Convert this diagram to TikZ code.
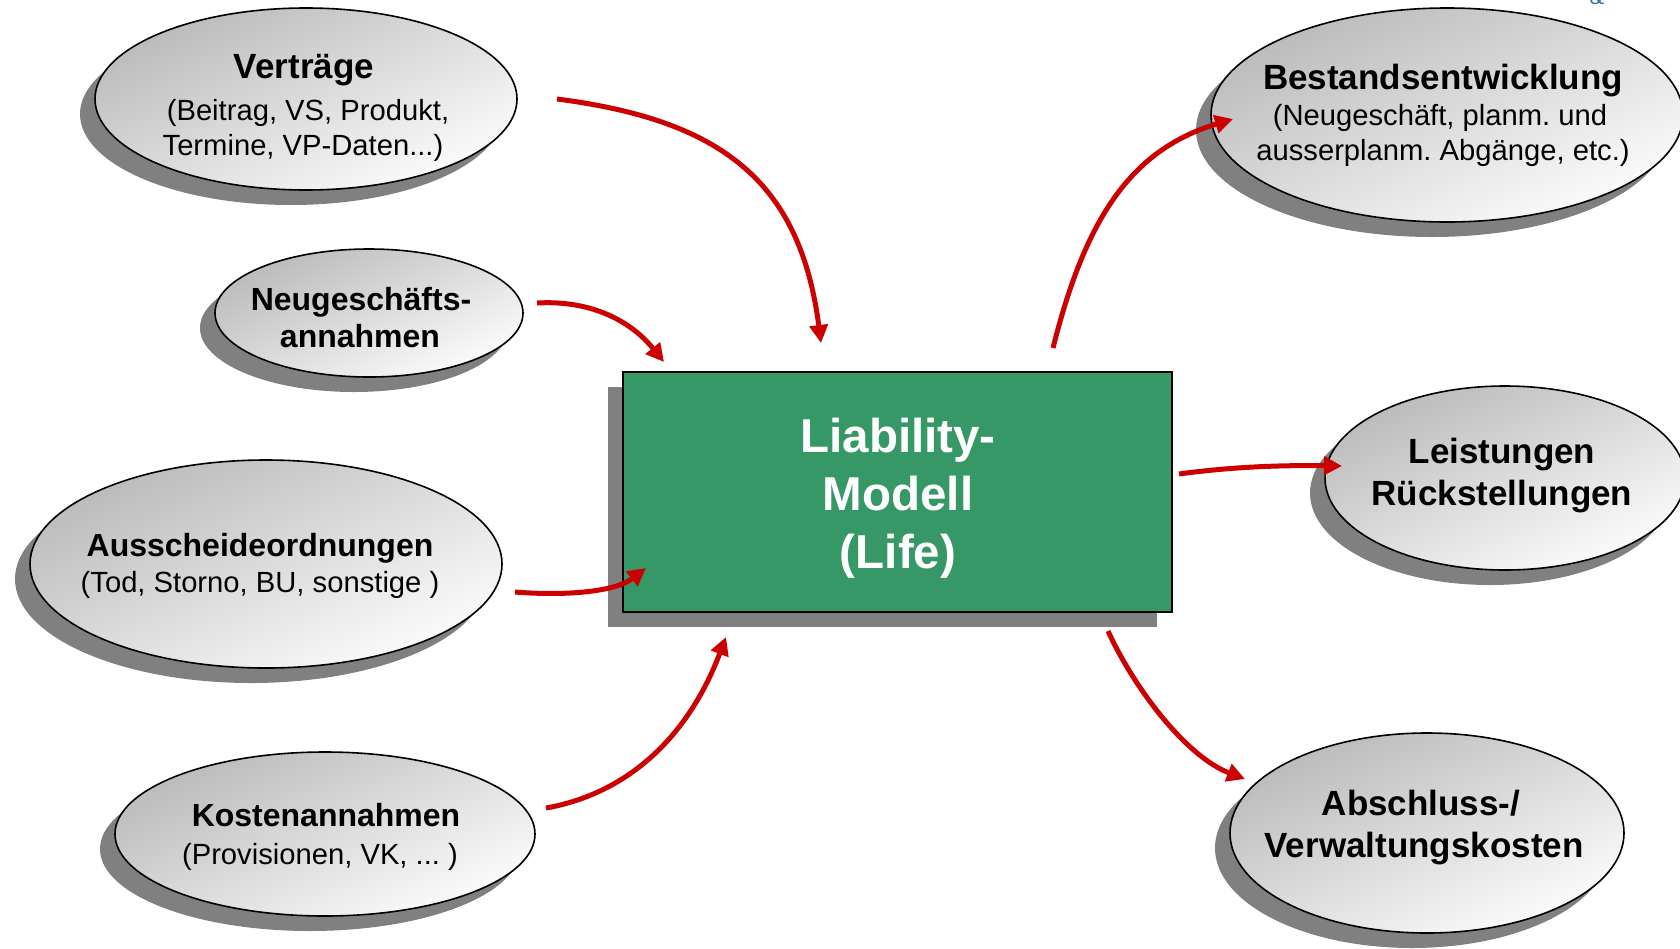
\documentclass[tikz,border=0pt]{standalone}
\usepackage{fontspec}
\setmainfont{Liberation Sans}
\usetikzlibrary{arrows.meta,shapes.geometric,shadows}
\definecolor{boxgreen}{RGB}{54,152,102}
\definecolor{arrowred}{RGB}{204,0,0}
\definecolor{shadowgray}{RGB}{128,128,128}
\definecolor{ellgray}{RGB}{186,186,186}
\definecolor{ellwhite}{RGB}{252,252,252}
\definecolor{logoblue}{RGB}{60,110,160}
\frenchspacing

\begin{document}
\begin{tikzpicture}[x=1pt,y=-1pt,
  castshadow/.style={drop shadow={shadow xshift=-15pt, shadow yshift=-15pt,
      fill=shadowgray, opacity=1}},
  bubble/.style={ellipse, draw=black, line width=1.6pt, inner sep=0pt,
      top color=ellgray, bottom color=ellwhite, shading angle=25, castshadow},
  modelbox/.style={rectangle, draw=black, line width=1.6pt, fill=boxgreen,
      inner sep=0pt, castshadow},
  ttl/.style={anchor=base, inner sep=0pt, font=\fontsize{35}{40}\selectfont\bfseries},
  ttlsmall/.style={anchor=base, inner sep=0pt, font=\fontsize{32}{38}\selectfont\bfseries},
  sub/.style={anchor=base, inner sep=0pt, font=\fontsize{29.2}{34}\selectfont},
  mtxt/.style={anchor=base, inner sep=0pt, text=white,
      font=\fontsize{47.5}{56}\selectfont\bfseries},
  flow/.style={draw=arrowred, line width=5pt,
      -{Triangle[length=18pt,width=18pt]}}
]
\useasboundingbox (0,0) rectangle (1680,948);

% corner fragment of the header logo
\node[anchor=base, inner sep=0pt, text=logoblue,
      font=\fontsize{22}{22}\selectfont] (logo) at (1597,4) {\&};

% input bubbles (left)
\node[bubble, minimum width=422pt, minimum height=182pt] (vertraege) at (306,99) {};
\node[bubble, minimum width=308pt, minimum height=128pt] (neugeschaeft) at (369,313) {};
\node[bubble, minimum width=472pt, minimum height=208pt] (ausscheide) at (266,564) {};
\node[bubble, minimum width=420pt, minimum height=164pt] (kosten) at (325,834) {};

% output bubbles (right)
\node[bubble, minimum width=472pt, minimum height=214pt] (bestand) at (1447,115) {};
\node[bubble, minimum width=360pt, minimum height=184pt] (leistungen) at (1505,478) {};
\node[bubble, minimum width=394pt, minimum height=200pt] (abschluss) at (1427,833) {};

% central model
\node[modelbox, minimum width=549pt, minimum height=240pt] (model) at (897.5,492) {};

% bubble texts
\node[ttl] (vertraege-t) at (304,78) {Verträge};
\node[sub] (vertraege-s1) at (308,120) {(Beitrag, VS, Produkt,};
\node[sub] (vertraege-s2) at (303,155) {Termine, VP-Daten...)};

\node[ttlsmall] (neugeschaeft-t1) at (361,310) {Neugeschäfts-};
\node[ttlsmall] (neugeschaeft-t2) at (360,347) {annahmen};

\node[ttlsmall] (ausscheide-t) at (260,556) {Ausscheideordnungen};
\node[sub] (ausscheide-s) at (260,592) {(Tod, Storno, BU, sonstige )};

\node[ttlsmall] (kosten-t) at (326,826) {Kostenannahmen};
\node[sub] (kosten-s) at (320,864) {(Provisionen, VK, ... )};

\node[ttl] (bestand-t) at (1443,89) {Bestandsentwicklung};
\node[sub] (bestand-s1) at (1440,125) {(Neugeschäft, planm. und};
\node[sub] (bestand-s2) at (1443,160) {ausserplanm. Abgänge, etc.)};

\node[ttl] (leistungen-t1) at (1502,463) {Leistungen};
\node[ttl] (leistungen-t2) at (1502,505) {Rückstellungen};

\node[ttl] (abschluss-t1) at (1421,815) {Abschluss-/};
\node[ttl] (abschluss-t2) at (1424,857) {Verwaltungskosten};

% model text
\node[mtxt] (model-t1) at (898,452) {Liability-};
\node[mtxt] (model-t2) at (898,510) {Modell};
\node[mtxt] (model-t3) at (898,568) {(Life)};

% arrow end points
\coordinate (a1s) at (557,99);   \coordinate (a1e) at (821,343);
\coordinate (a2s) at (537,303);  \coordinate (a2e) at (664,362);
\coordinate (a3s) at (515,592);  \coordinate (a3e) at (646,568);
\coordinate (a4s) at (546,808);  \coordinate (a4e) at (726,637);
\coordinate (a5s) at (1053,348); \coordinate (a5e) at (1233,119);
\coordinate (a6s) at (1179,474); \coordinate (a6e) at (1342,466);
\coordinate (a7s) at (1108,631); \coordinate (a7e) at (1245,779);

% inputs into the model
\draw[flow] (a1s) .. controls (720,120) and (800,180) .. (a1e);
\draw[flow] (a2s) .. controls (590,300) and (630,320) .. (a2e);
\draw[flow] (a3s) .. controls (565,596) and (615,592) .. (a3e);
\draw[flow] (a4s) .. controls (620,795) and (685,745) .. (a4e);

% outputs of the model
\draw[flow] (a5s) .. controls (1085,220) and (1130,150) .. (a5e);
\draw[flow] (a6s) .. controls (1230,467) and (1280,465) .. (a6e);
\draw[flow] (a7s) .. controls (1133,686) and (1185,756) .. (a7e);
\end{tikzpicture}
\end{document}
